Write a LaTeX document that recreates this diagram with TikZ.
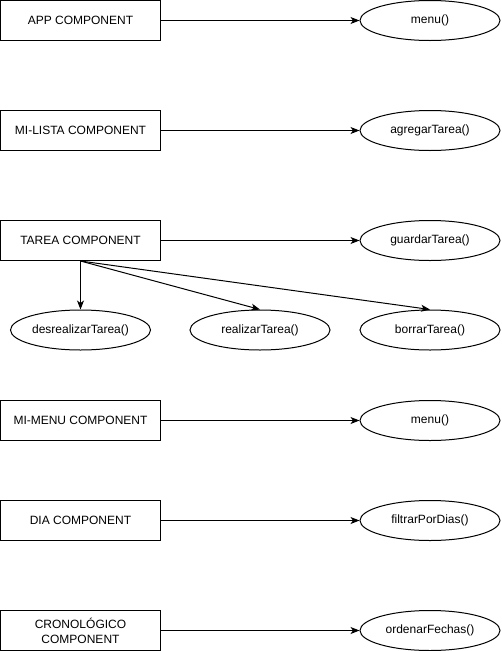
\documentclass[tikz,border=0pt]{standalone}
\usepackage{fontspec}
\setmainfont{Liberation Sans}
\usetikzlibrary{shapes.geometric,arrows.meta}

\begin{document}
\begin{tikzpicture}[x=1pt,y=-1pt,
  comp/.style={draw,line width=1pt,minimum width=160pt,minimum height=40pt,inner sep=0pt,align=center,font=\fontsize{12}{15}\selectfont},
  func/.style={draw,ellipse,line width=1pt,minimum width=140pt,minimum height=40pt,inner sep=0pt,font=\fontsize{12}{15}\selectfont},
  link/.style={line width=1pt,-{Stealth[length=9pt,width=7pt,inset=2.5pt]}}]
\useasboundingbox (0,0) rectangle (501,651);
% Components
\node[comp] (app) at (80.5,20.5) {APP COMPONENT};
\node[comp] (lista) at (80.5,130.5) {MI-LISTA COMPONENT};
\node[comp] (tarea) at (80.5,240.5) {TAREA COMPONENT};
\node[comp] (mimenu) at (80.5,420.5) {MI-MENU COMPONENT};
\node[comp] (dia) at (80.5,520.5) {DIA COMPONENT};
\node[comp] (crono) at (80.5,630.5) {CRONOLÓGICO\\COMPONENT};
% Methods
\node[func] (menuA) at (430,20.5) {menu()};
\node[func] (agregar) at (430,130.5) {agregarTarea()};
\node[func] (guardar) at (430,240.5) {guardarTarea()};
\node[func] (desreal) at (80.5,330) {desrealizarTarea()};
\node[func] (realizar) at (260,330) {realizarTarea()};
\node[func] (borrar) at (430,330) {borrarTarea()};
\node[func] (menuB) at (430,420.5) {menu()};
\node[func] (filtrar) at (430,520.5) {filtrarPorDias()};
\node[func] (ordenar) at (430,630.5) {ordenarFechas()};
% Arrows
\draw[link] (app) -- (menuA);
\draw[link] (lista) -- (agregar);
\draw[link] (tarea) -- (guardar);
\draw[link] (tarea.south) -- (desreal.north);
\draw[link] (tarea.south) -- (realizar.north);
\draw[link] (tarea.south) -- (borrar.north);
\draw[link] (mimenu) -- (menuB);
\draw[link] (dia) -- (filtrar);
\draw[link] (crono) -- (ordenar);
\end{tikzpicture}
\end{document}
